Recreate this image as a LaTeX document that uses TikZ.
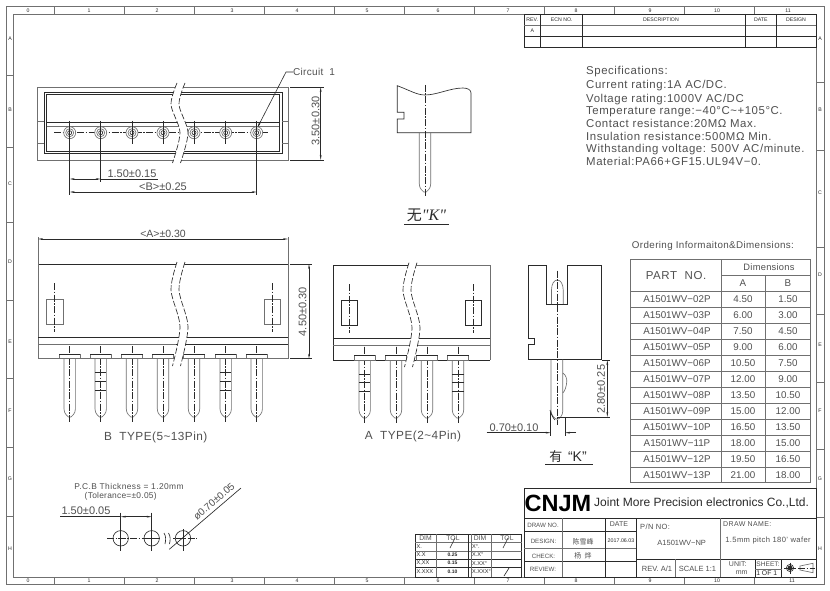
\documentclass[tikz,border=0pt]{standalone}
\usepackage{fontspec}
\setmainfont{Liberation Sans}
\newfontfamily\cjk{Noto Sans CJK SC}
\newfontfamily\serifit{Liberation Serif}
\usetikzlibrary{arrows.meta}
\definecolor{dk}{HTML}{2A2A2A}
\definecolor{md}{HTML}{707070}
\definecolor{tx}{HTML}{505050}
\newcommand{\sz}[1]{\fontsize{#1}{#1}\selectfont}
\tikzset{
 x=1pt,y=-1pt,
 ln/.style={line width=0.65pt,draw=dk},
 lg/.style={line width=0.65pt,draw=md},
 fr/.style={line width=0.9pt,draw=md},
 cl/.style={line width=0.55pt,draw=dk,dash pattern=on 7pt off 1.5pt on 1.5pt off 1.5pt},
 dimen/.style={line width=0.6pt,draw=dk,{Stealth[length=5pt,width=1.8pt]}-{Stealth[length=5pt,width=1.8pt]}},
 headr/.style={line width=0.6pt,draw=dk,-{Stealth[length=5pt,width=1.8pt]}},
 lbl/.style={inner sep=0pt,text=tx,font=\sz{11}},
 tiny/.style={inner sep=0pt,text=dk,font=\sz{5.2}},
 cell/.style={inner sep=0pt,text=tx,font=\sz{9.8}},
 spec/.style={inner sep=0pt,anchor=west,text=tx,font=\addfontfeatures{LetterSpace=5}\sz{11.4}},
 brkline/.style={line width=0.65pt,draw=dk,dash pattern=on 6pt off 2pt},
}
% break mark: x, y top, y bottom, gap
\newcommand{\brk}[4]{%
 \fill[white] plot[smooth] coordinates {({#1+6},{#2}) ({#1},{#2+0.27*(#3-#2)}) ({#1+9},{#2+0.62*(#3-#2)}) ({#1+1.5},{#3})}
  -- plot[smooth] coordinates {({#1+1.5+#4},{#3}) ({#1+9+#4},{#2+0.62*(#3-#2)}) ({#1+#4},{#2+0.27*(#3-#2)}) ({#1+6+#4},{#2})} -- cycle;
 \draw[brkline] plot[smooth] coordinates {({#1+6},{#2}) ({#1},{#2+0.27*(#3-#2)}) ({#1+9},{#2+0.62*(#3-#2)}) ({#1+1.5},{#3})};
 \draw[brkline] plot[smooth] coordinates {({#1+6+#4},{#2}) ({#1+#4},{#2+0.27*(#3-#2)}) ({#1+9+#4},{#2+0.62*(#3-#2)}) ({#1+1.5+#4},{#3})};
}
% pin: x, y top of body, y tip, centre line top, centre line bottom
\newcommand{\pinbody}[5]{%
 \draw[lg] ({#1-5.7},{#2}) -- ({#1-5.7},{#3-8}) .. controls ({#1-5.7},{#3-3}) and ({#1-2},{#3-1}) .. ({#1-1.2},{#3})
   -- ({#1+1.2},{#3}) .. controls ({#1+2},{#3-1}) and ({#1+5.7},{#3-3}) .. ({#1+5.7},{#3-8}) -- ({#1+5.7},{#2});
 \draw[cl] (#1,#4) -- (#1,#5);
}
\newcommand{\flange}[3]{\draw[lg,fill=white] ({#1-10.7},#2) rectangle ({#1+10.7},#3); \draw[ln] ({#1-10.7},#2) -- ({#1+10.7},#2);}
\newcommand{\pinmarks}[4]{\foreach \yy in {#2,#3,#4} \draw[ln] ({#1-5.7},\yy) -- ({#1+5.7},\yy);}
\begin{document}
\begin{tikzpicture}
\useasboundingbox (0,0) rectangle (830,591);
\fill[white] (0,0) rectangle (830,591);

% ---------- frame ----------
\draw[fr] (6.5,6.5) rectangle (824,584.3);
\draw[fr] (13.5,14) rectangle (816,577);
\foreach \xx in {54,124,194,264,334,404,474,544,614,684,754} {
  \draw[fr] (\xx,6.5) -- (\xx,14);
  \draw[fr] (\xx,577) -- (\xx,584.3);
}
\foreach \yy in {75,147,222,300,378,447,516} \draw[fr] (6.5,\yy) -- (13.5,\yy);
\foreach \yy in {82,150,247,314,382,449,517} \draw[fr] (816,\yy) -- (824,\yy);
\foreach \xx/\nn [count=\i] in {28/0,89/1,157/2,232/3,297/4,367/5,438/6,508/7,576/8,650/9,717/10,788/11} {
  \node[tiny] (topn\i) at (\xx,10.4) {\nn};
  \node[tiny] (botn\i) at ({\xx+(\i==12?4:0)},580.8) {\nn};
}
\foreach \yy/\nn [count=\i] in {39/A,110/B,184/C,262/D,342/E,411/F,479/G,549/H} \node[tiny] (leftl\i) at (10,\yy) {\nn};
\foreach \yy/\nn [count=\i] in {39/A,110/B,193/C,275/D,345/E,411/F,479/G,549/H} \node[tiny] (rightl\i) at (820,\yy) {\nn};

% ---------- revision table ----------
\draw[ln] (524,14) rectangle (816,47.3);
\draw[lg] (524,25) -- (816,25);
\draw[ln] (524,36) -- (816,36);
\foreach \xx in {540.7,582.7,745.7,776} \draw[ln] (\xx,14) -- (\xx,47.3);
\node[tiny] (rv1) at (532.3,20) {REV.};
\node[tiny] (rv2) at (561.7,20) {ECN NO.};
\node[tiny] (rv3) at (661,20) {DESCRIPTION};
\node[tiny] (rv4) at (760.8,20) {DATE};
\node[tiny] (rv5) at (796,20) {DESIGN};
\node[tiny] (rv6) at (532.3,31) {A};

% ---------- top view ----------
\draw[lg] (37.7,87) rectangle (288,160);
\draw[ln] (44,92) rectangle (282,153);
\draw[ln] (46.7,94) rectangle (279,151);
\draw[lg] (37.7,121) -- (44,121) (37.7,143) -- (44,143) (282,121) -- (288,121) (282,143) -- (288,143);
\draw[ln] (46.7,122.7) -- (279,122.7);
\draw[lg] (46.7,126.7) -- (279,126.7);
\draw[cl] (54,132.7) -- (268,132.7);
\foreach \xx in {69.7,100.7,132,163,194,225.7,256.7} {
  \draw[lg,fill=white] (\xx,132.7) circle (6);
  \draw[lg] (\xx,132.7) circle (4);
  \draw[ln] (\xx,132.7) circle (2);
  \draw[ln] (\xx,121) -- (\xx,144);
}
\brk{171}{83}{163}{8}
\node[lbl,anchor=west,font=\addfontfeatures{LetterSpace=3}\sz{10}] (circ) at (293,72) {Circuit\ \ 1};
\coordinate (circA) at (286,72);
\coordinate (circT) at (257.5,127.5);
\draw[headr] (circ.west) -- (circA) -- (circT);
\draw[ln] (290,87) -- (324,87) (290,160) -- (324,160);
\draw[dimen] (320.7,87) -- (320.7,160);
\node[lbl,rotate=90] (d350) at (315.5,121) {3.50±0.30};
\draw[ln] (69.7,133) -- (69.7,195) (100.7,133) -- (100.7,182) (256.7,133) -- (256.7,195);
\draw[dimen] (69.7,179) -- (100.7,179);
\draw[ln] (100.7,179) -- (158,179);
\draw[dimen] (69.7,192) -- (256.7,192);
\node[lbl] (d150) at (132,173.5) {1.50±0.15};
\node[lbl] (dB) at (163,187) {<B>±0.25};

% ---------- 无 K view ----------
\draw[ln] (404,112.3) -- (397.3,112.3) -- (397.3,85.7) .. controls (410,90.5) and (417,95) .. (425,95)
  .. controls (437,95) and (450,88) .. (463,88) .. controls (468,88) and (471,90) .. (471,93)
  -- (471,132.7) -- (397.3,132.7) -- (397.3,119) -- (404,119) -- cycle;
\pinbody{425}{132.7}{192}{85}{196.7}
\node[inner sep=0pt,text=dk] (capno) at (426.5,215.5) {\cjk\sz{15}无\serifit\itshape\sz{16}"K"};
\coordinate (capnoL) at (404,224.3);
\coordinate (capnoR) at (448.7,224.3);
\draw[ln] (capnoL) -- (capnoR);

% ---------- specifications ----------
\node[spec] (s1) at (586,72) {Specifications:};
\node[spec] (s2) at (586,86) {Current rating:1A AC/DC.};
\node[spec] (s3) at (586,99.7) {Voltage rating:1000V AC/DC};
\node[spec] (s4) at (586,111.7) {Temperature range:−40°C\textasciitilde +105°C.};
\node[spec] (s5) at (586,123.7) {Contact resistance:20MΩ Max.};
\node[spec] (s6) at (586,136) {Insulation resistance:500MΩ Min.};
\node[spec] (s7) at (586,149.3) {Withstanding voltage: 500V AC/minute.};
\node[spec] (s8) at (586,161.7) {Material:PA66+GF15.UL94V−0.};

% ---------- B type ----------
\draw[lg] (38,237) -- (38,264) (288,237) -- (288,264);
\draw[dimen] (38,239) -- (288,239);
\node[lbl,font=\sz{10.5}] (dA) at (163,234) {<A>±0.30};
\draw[ln] (38,264) -- (288,264);
\draw[lg] (38,264) -- (38,358.7) (288,264) -- (288,358.7);
\draw[lg] (38,358.7) -- (288,358.7);
\draw[ln] (38,337) -- (288,337);
\draw[lg] (38,344) -- (176,344);
\draw[ln] (176,344) -- (288,344);
\draw[lg] (46.3,299) rectangle (63,324);
\draw[lg] (264,299) rectangle (280,324);
\draw[cl] (54.7,283) -- (54.7,332);
\draw[cl] (272,283) -- (272,332);
\foreach \xx in {69.7,100.7,132,163,194,225.7,256.7} {
  \pinbody{\xx}{358.7}{417}{346}{421.7}
  \flange{\xx}{354.3}{358.7}
  \draw[cl] (\xx,346) -- (\xx,354);
}
\pinmarks{100.7}{372.7}{381.7}{390.7}
\pinmarks{225.7}{372.7}{381.7}{390.7}
\brk{171}{262}{366}{8}
\draw[ln] (290,264) -- (312,264) (290,358.7) -- (312,358.7);
\draw[dimen] (309,264) -- (309,358.7);
\node[lbl,rotate=90] (d450) at (302.7,311.7) {4.50±0.30};
\node[lbl,font=\addfontfeatures{LetterSpace=4}\sz{11.8}] (capB) at (155.7,437) {B\ \ TYPE(5\textasciitilde 13Pin)};

% ---------- A type ----------
\draw[ln] (333.3,360) -- (333.3,265.3) -- (412,265.3);
\draw[lg] (412,265.3) -- (490,265.3) -- (490,360);
\draw[ln] (333.3,360) -- (490,360);
\draw[ln] (333.3,338) -- (490,338);
\draw[lg] (333.3,345) -- (490,345);
\draw[ln] (341.7,300) rectangle (357.3,325.3);
\draw[ln] (465.3,300) rectangle (481.3,325.3);
\draw[cl] (349.3,284) -- (349.3,332.7);
\draw[cl] (473.3,284) -- (473.3,332.7);
\foreach \xx in {364.7,396,427,458} {
  \pinbody{\xx}{360}{418}{346.7}{422.7}
  \flange{\xx}{355}{360}
  \draw[cl] (\xx,346.7) -- (\xx,355);
}
\pinmarks{364.7}{374}{382.7}{391.3}
\pinmarks{458}{374}{382.7}{391.3}
\brk{403}{262.7}{367}{8}
\node[lbl,font=\addfontfeatures{LetterSpace=4}\sz{11.8}] (capA) at (413,436.7) {A\ \ TYPE(2\textasciitilde 4Pin)};

% ---------- side view ----------
\draw[ln] (528.7,338) -- (528.7,265.3) -- (546.7,265.3) -- (546.7,304) -- (567.3,304) -- (567.3,265.3) -- (601.7,265.3) -- (601.7,359.6) -- (528.7,359.6) -- (528.7,344.3) -- (534,344.3) -- (534,338) -- cycle;
\draw[lg] (551.5,304) -- (551.5,290) .. controls (551.5,284) and (554,280) .. (557.3,280) .. controls (560.6,280) and (563.2,284) .. (563.2,290) -- (563.2,304);
\draw[lg] (551,359.6) -- (551,411) .. controls (551,415) and (555,419.3) .. (557.3,419.3);
\draw[lg] (562.8,359.6) -- (562.8,411) .. controls (562.8,415) and (559.6,419.3) .. (557.3,419.3);
\draw[lg] (562.8,373) .. controls (566,375) and (567,379) .. (566.7,382) .. controls (566.5,386) and (565,391) .. (562.8,393);
\draw[ln] (550,410) .. controls (551,414) and (553,418) .. (555,420);
\draw[cl] (557.3,270.7) -- (557.3,425);
\draw[ln] (602,360) -- (610,360) (558,417) -- (610,417);
\draw[dimen] (607.3,360) -- (607.3,417);
\node[lbl,rotate=90] (d280) at (601,389.3) {2.80±0.25};
\draw[ln] (550.7,412) -- (550.7,436) (565,417) -- (565,436);
\draw[headr] (486.7,432.7) -- (550.7,432.7);
\draw[headr] (576,432.7) -- (565,432.7);
\node[lbl] (d070) at (514,427.3) {0.70±0.10};
\node[inner sep=0pt,text=dk] (capyes) at (568,457) {\cjk\sz{13}有\ \ \rmfamily\sz{14}“K”};
\coordinate (capyesL) at (545,464.3);
\coordinate (capyesR) at (592.7,464.3);
\draw[ln] (capyesL) -- (capyesR);

% ---------- ordering table ----------
\node[lbl,anchor=west,font=\addfontfeatures{LetterSpace=4}\sz{9.8}] (ordt) at (631.7,246) {Ordering Informaiton\&Dimensions:};
\draw[lg] (630.3,259) rectangle (810.7,482.7);
\draw[lg] (721,259) -- (721,482.7);
\draw[lg] (765.7,275) -- (765.7,482.7);
\draw[lg] (721,275) -- (810.7,275);
\foreach \yy in {291,307,323,339,355,371,387,403,419,435,451,467} \draw[lg] (630.3,\yy) -- (810.7,\yy);
\node[cell,font=\addfontfeatures{LetterSpace=5}\sz{11.5}] (hpart) at (676,276) {PART\ \ NO.};
\node[cell,font=\addfontfeatures{LetterSpace=3}\sz{9.3}] (hdim) at (769,267) {Dimensions};
\node[cell] (hA) at (743,283.5) {A};
\node[cell] (hB) at (788,283.5) {B};
\foreach \p/\a/\b [count=\i] in {02P/4.50/1.50,03P/6.00/3.00,04P/7.50/4.50,05P/9.00/6.00,06P/10.50/7.50,07P/12.00/9.00,08P/13.50/10.50,09P/15.00/12.00,10P/16.50/13.50,11P/18.00/15.00,12P/19.50/16.50,13P/21.00/18.00} {
  \node[cell] (rp\i) at (677,{299+16*(\i-1)}) {A1501WV−\p};
  \node[cell] (ra\i) at (743,{299+16*(\i-1)}) {\a};
  \node[cell] (rb\i) at (788,{299+16*(\i-1)}) {\b};
}

% ---------- title block ----------
\draw[ln] (524.3,488.3) rectangle (816,577);
\draw[ln] (524.3,518.3) -- (816,518.3);
\draw[ln] (524.3,531.7) -- (636.7,531.7);
\draw[lg] (524.3,548.3) -- (636.7,548.3);
\draw[ln] (524.3,561.7) -- (636.7,561.7);
\draw[ln] (636.7,559) -- (816,559);
\draw[lg] (562.7,518.3) -- (562.7,577);
\draw[ln] (605,518.3) -- (605,577);
\draw[ln] (636.7,518.3) -- (636.7,577);
\draw[lg] (720,518.3) -- (720,577);
\draw[lg] (675.7,559) -- (675.7,577);
\draw[ln] (755.3,559) -- (755.3,577);
\draw[ln] (781.7,559) -- (781.7,577);
\draw[lg] (755.3,569) -- (781.7,569);
\node[inner sep=0pt,text=black,font=\bfseries\sz{23.5}] (cnjm) at (558,503) {CNJM};
\node[inner sep=0pt,anchor=west,text=dk,font=\sz{12}] (jmp) at (594,502.7) {Joint More Precision electronics Co.,Ltd.};
\tikzset{tb/.style={inner sep=0pt,text=tx,font=\sz{6.2}}}
\node[tb] (t1) at (543,525) {DRAW NO.};
\node[tb,font=\sz{7}] (t2) at (619,524) {DATE};
\node[tb] (t3) at (543.5,541) {DESIGN:};
\node[tb] (t4) at (583,541.5) {\cjk\sz{7}陈雪峰};
\node[tb,font=\sz{5.3},text=dk] (t5) at (621,541) {2017.06.03};
\node[tb] (t6) at (543.5,556) {CHECK:};
\node[tb] (t7) at (583,556) {\cjk\sz{7}杨\ \ 烨};
\node[tb] (t8) at (543,569) {REVIEW:};
\node[tb,anchor=west,font=\addfontfeatures{LetterSpace=5}\sz{7.5}] (t9) at (640,526.5) {P/N NO:};
\node[tb,font=\sz{7.5}] (t10) at (681.7,543) {A1501WV−NP};
\node[tb,anchor=west,font=\addfontfeatures{LetterSpace=5}\sz{7}] (t11) at (723,524.3) {DRAW NAME:};
\node[tb,font=\addfontfeatures{LetterSpace=5}\sz{7.6}] (t12) at (768,541) {1.5mm pitch 180' wafer};
\node[tb,font=\sz{7.5}] (t13) at (657,569) {REV. A/1};
\node[tb,font=\sz{7.5}] (t14) at (697.5,569) {SCALE 1:1};
\node[tb,font=\sz{7}] (t15) at (737.7,564) {UNIT:};
\node[tb,font=\sz{7}] (t16) at (741.7,572.5) {mm};
\node[tb,font=\sz{6.6}] (t17) at (768,564) {SHEET:};
\node[tb,font=\sz{6.8},text=dk] (t18) at (766.7,573) {1 OF 1};
% projection symbol
\draw[ln] (790,568) circle (3.6);
\fill[dk] (790,568) circle (2.4);
\draw[ln] (784,568) -- (796,568) (790,562.5) -- (790,573.5);
\draw[lg] (800,566) -- (813,563.3) -- (813,572.7) -- (800,570) -- cycle;
\draw[cl] (798,568) -- (815,568);

% ---------- tolerance table ----------
\draw[ln] (415,534.3) rectangle (521.7,577);
\draw[lg] (415,542.3) -- (521.7,542.3);
\draw[lg] (415,551) -- (521.7,551);
\draw[ln] (415,559) -- (521.7,559);
\draw[ln] (415,567.3) -- (521.7,567.3);
\draw[lg] (436,534.3) -- (436,577);
\draw[ln] (468.3,534.3) -- (468.3,577);
\draw[lg] (471,534.3) -- (471,577);
\draw[lg] (491,534.3) -- (491,577);
\draw[ln] (450,548) -- (455,538);
\draw[ln] (503,548) -- (508,538);
\draw[ln] (504,576) -- (509,568);
\tikzset{tl/.style={inner sep=0pt,text=tx,font=\sz{6.8}}, tm/.style={inner sep=0pt,anchor=west,text=dk,font=\sz{5.6}}}
\node[tl] (u1) at (425.5,538.5) {DIM};
\node[tl] (u2) at (453,538) {TOL};
\node[tl] (u3) at (480,538.5) {DIM};
\node[tl] (u4) at (507,538) {TOL};
\node[tm] (u5) at (416.5,546.7) {X.};
\node[tm] (u6) at (416.5,555) {X.X};
\node[tm] (u7) at (416.5,563.2) {X,XX};
\node[tm] (u8) at (416.5,572) {X.XXX};
\node[tm] (u9) at (472,546.7) {X°.};
\node[tm] (u10) at (472,555) {X.X°};
\node[tm] (u11) at (472,563.2) {X.XX°};
\node[tm] (u12) at (472,572) {X.XXX°};
\node[tm,anchor=center,font=\bfseries\sz{5}] (u13) at (452.5,555) {0.25};
\node[tm,anchor=center,font=\bfseries\sz{5}] (u14) at (452.5,563.2) {0.15};
\node[tm,anchor=center,font=\bfseries\sz{5}] (u15) at (452.5,572) {0.10};

% ---------- PCB pattern ----------
\node[tl,font=\addfontfeatures{LetterSpace=5}\sz{8.4}] (p1) at (129,486.7) {P.C.B Thickness = 1.20mm};
\node[tl,font=\addfontfeatures{LetterSpace=3}\sz{8.4}] (p2) at (120.7,496.7) {(Tolerance=±0.05)};
\node[lbl] (p3) at (86,510.7) {1.50±0.05};
\draw[ln] (60,516.7) -- (120.7,516.7);
\draw[dimen] (120.7,516.7) -- (151.7,516.7);
\foreach \xx in {120.7,151.7,183} {
  \draw[ln] (\xx,538.3) circle (7.7);
  \draw[ln] ({\xx-3},538.3) -- ({\xx+3},538.3);
}
\draw[ln] (120.7,512.7) -- (120.7,551) (151.7,512.7) -- (151.7,551) (183,529) -- (183,551);
\draw[cl] (107,538.3) -- (197,538.3);
\fill[white] (160.5,532) rectangle (172.5,545);
\draw[ln] (164,533) .. controls (166,536) and (166,540) .. (165,544);
\draw[ln] (168.5,533) .. controls (170.5,536) and (170.5,540) .. (169.5,544);
\coordinate (lead1) at (169.3,549.3);
\coordinate (lead2) at (241,488);
\draw[ln] (lead1) -- (lead2);
\node[lbl,rotate=40.5,font=\sz{10}] (p4) at (214,501.5) {ø0.70±0.05};
\end{tikzpicture}
\end{document}
